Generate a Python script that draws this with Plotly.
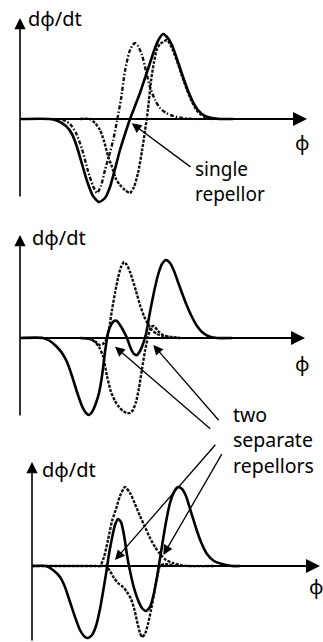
import plotly.graph_objects as go

W, H = 323, 642

# panel 1: single repellor
p1_solid_phi = [20, 50, 58, 66, 72, 77, 82, 87, 93, 99, 105, 110, 115, 120, 125, 130, 135, 140, 145, 150,
                155, 159, 163, 167, 172, 177, 182, 187, 192, 198, 205, 212, 220, 233]
p1_solid_val = [0, 0, -2, -7, -15, -28, -45, -62, -77, -83, -79, -68, -50, -31, -15, 0, 13, 26, 41, 56,
                71, 80, 85, 82, 74, 60, 45, 31, 19, 9, 3, 1, 0, 0]
p1_dotA_phi = [62, 70, 76, 82, 88, 93, 97, 101, 105, 109, 113, 117, 121, 125, 129, 132, 135, 138, 142, 146,
               150, 155, 160, 166, 173, 182, 195]
p1_dotA_val = [0, -5, -14, -30, -52, -67, -74, -67, -51, -37, -22, -2, 20, 48, 66, 73, 76, 73, 64, 48,
               32, 19, 11, 6, 3, 1, 0]
p1_dotB_phi = [80, 90, 95, 100, 104, 108, 112, 116, 120, 125, 130, 134, 138, 142, 145, 148, 151, 154, 157, 160,
               163, 167, 172, 177, 182, 187, 192, 198, 205, 212]
p1_dotB_val = [0, 0, -4, -11, -22, -37, -48, -60, -66, -71, -74, -68, -54, -32, -12, 10, 38, 57, 70, 75,
               77, 79, 71, 58, 43, 29, 17, 7, 2, 0]

# panel 2: two separate repellors
p2_solid_phi = [20, 43, 50, 56, 62, 67, 72, 77, 82, 86, 89, 92, 96, 99, 102, 105, 108, 111, 114, 117,
                120, 123, 127, 131, 134, 137, 140, 143, 146, 150, 154, 158, 162, 166, 170, 174, 178, 182, 187, 192,
                197, 202, 208, 217, 232]
p2_solid_val = [0, 0, -3, -8, -15, -24, -38, -54, -68, -75, -77, -74, -65, -55, -38, -14, 5, 13, 17, 17,
                13, 8, 0, -11, -16, -17, -13, -6, 4, 26, 46, 63, 74, 78, 75, 67, 56, 45, 32, 21,
                12, 6, 2, 0, 0]
p2_dotA_phi = [82, 90, 96, 100, 103, 106, 109, 112, 115, 118, 121, 124, 127, 130, 133, 136, 140, 144, 148, 152,
               157, 163, 170, 180]
p2_dotA_val = [0, -1, -4, -7, -6, -2, 9, 28, 45, 60, 71, 76, 73, 66, 57, 47, 33, 22, 14, 8,
               4, 2, 1, 0]
p2_dotB_phi = [80, 90, 95, 99, 103, 107, 111, 115, 119, 123, 127, 130, 133, 136, 139, 142, 145, 148, 151, 154,
               158, 163, 170, 180]
p2_dotB_val = [0, -1, -4, -9, -18, -38, -54, -63, -69, -73, -75, -75, -72, -64, -50, -31, -13, 1, 11, 12,
               7, 3, 1, 0]

# panel 3: two separate repellors, deeper
p3_solid_phi = [32, 46, 53, 60, 65, 70, 75, 80, 85, 88, 92, 96, 100, 103, 106, 109, 112, 115, 118, 121,
                124, 127, 130, 134, 138, 142, 146, 150, 154, 158, 162, 166, 170, 174, 178, 182, 186, 191, 196, 201,
                207, 214, 222, 232, 240]
p3_solid_val = [0, 0, -4, -11, -21, -36, -51, -64, -71, -72, -69, -60, -43, -26, -8, 12, 28, 41, 47, 44,
                31, 11, -5, -22, -34, -42, -45, -41, -27, -5, 20, 44, 63, 74, 79, 77, 70, 54, 38, 24,
                12, 5, 2, 0, 0]
p3_dotA_phi = [32, 95, 100, 104, 108, 112, 116, 120, 125, 130, 135, 140, 145, 150, 155, 160, 166, 173, 180, 188, 215]
p3_dotA_val = [0, 0, 0, 9, 26, 45, 57, 70, 79, 73, 62, 50, 39, 28, 19, 12, 6, 3, 1, 0, 0]
p3_dotB_phi = [100, 106, 110, 114, 118, 123, 127, 131, 134, 137, 140, 142, 145, 148, 151, 154, 157, 160, 165, 175]
p3_dotB_val = [0, 0, -5, -12, -17, -21, -26, -33, -42, -55, -67, -71, -68, -58, -44, -28, -12, 0, 2, 0]

# (top px, bottom px, phi-axis px, y-axis x, phi arrow tip x, y-axis tip px, y-axis bottom px)
panels = [(0, 210, 119, 20, 307, 18, 198),
          (210, 425, 338, 20, 305, 235, 417),
          (425, 642, 566, 32, 320, 462, 642)]

SOLID = dict(color='black', width=2.6)
DOT = dict(color='#111111', width=2.4, dash='3px,1.4px')
DASHDOT = dict(color='#111111', width=2.4, dash='4px,2px,1.5px,2px')

FONT = dict(family='Noto Sans', size=20, color='black')

fig = go.Figure()

curves = [
    [(p1_dotA_phi, p1_dotA_val, DASHDOT), (p1_dotB_phi, p1_dotB_val, DOT), (p1_solid_phi, p1_solid_val, SOLID)],
    [(p2_dotA_phi, p2_dotA_val, DOT), (p2_dotB_phi, p2_dotB_val, DOT), (p2_solid_phi, p2_solid_val, SOLID)],
    [(p3_dotA_phi, p3_dotA_val, DOT), (p3_dotB_phi, p3_dotB_val, DOT), (p3_solid_phi, p3_solid_val, SOLID)],
]

annotations = []
layout = {}
for i, (top, bot, axis_px, yx, tipx, ytip, ybot) in enumerate(panels):
    n = '' if i == 0 else str(i + 1)
    xa, ya = 'x' + n, 'y' + n
    layout['xaxis' + n] = dict(domain=[0, 1], range=[0, W], visible=False, anchor=ya)
    layout['yaxis' + n] = dict(domain=[1 - bot / H, 1 - top / H], range=[axis_px - bot, axis_px - top],
                               visible=False, anchor=xa)
    for phi, val, style in curves[i]:
        fig.add_trace(go.Scatter(x=phi, y=val, mode='lines', line=dict(shape='spline', smoothing=0.6, **style),
                                 xaxis=xa, yaxis=ya, hoverinfo='skip', showlegend=False))
    # phi axis
    annotations.append(dict(x=tipx, y=0, ax=yx, ay=0, xref=xa, yref=ya, axref=xa, ayref=ya,
                            showarrow=True, arrowhead=2, arrowsize=1.4, arrowwidth=2,
                            arrowcolor='black', text=''))
    # dphi/dt axis
    annotations.append(dict(x=yx, y=axis_px - ytip, ax=yx, ay=axis_px - ybot,
                            xref=xa, yref=ya, axref=xa, ayref=ya,
                            showarrow=True, arrowhead=2, arrowsize=1.4, arrowwidth=1.6,
                            arrowcolor='black', text=''))


def paper(px, py):
    return px / W, 1 - py / H


def label(text, px, py, xanchor='left', yanchor='middle', size=20):
    x, y = paper(px, py)
    annotations.append(dict(x=x, y=y, xref='paper', yref='paper', text=text, showarrow=False,
                            xanchor=xanchor, yanchor=yanchor, align='left',
                            font=dict(FONT, size=size)))


label('dφ/dt', 26, 19)
label('dφ/dt', 30, 238)
label('dφ/dt', 40, 469)
label('φ', 302, 142, 'center')
label('φ', 302, 363, 'center')
label('φ', 316, 586, 'center')
label('single<br>repellor', 193, 182, size=19)
label('two<br>separate<br>repellors', 231, 440, size=19.5)

# pointer arrows: (tip panel, tip phi, tip px y, tail px x, tail px y)
pointers = [
    (0, 131.7, 123.3, 192, 168),
    (1, 115, 346.7, 211.7, 430),
    (1, 153.3, 345, 220, 421.7),
    (2, 115, 560, 216.7, 443.3),
    (2, 163.3, 555, 222.7, 452.7),
]
for k, tx, ty, sx, sy in pointers:
    n = '' if k == 0 else str(k + 1)
    axis_px = panels[k][2]
    annotations.append(dict(x=tx, y=axis_px - ty, xref='x' + n, yref='y' + n,
                            ax=sx - tx, ay=sy - ty, axref='pixel', ayref='pixel',
                            showarrow=True, arrowhead=2, arrowsize=1.5, arrowwidth=1.3,
                            arrowcolor='black', text=''))

fig.update_layout(width=W, height=H, margin=dict(l=0, r=0, t=0, b=0),
                  paper_bgcolor='white', plot_bgcolor='white',
                  annotations=annotations, **layout)

fig.write_html("out.html", config={'displayModeBar': False},
               post_script="document.body.style.margin='0';")
